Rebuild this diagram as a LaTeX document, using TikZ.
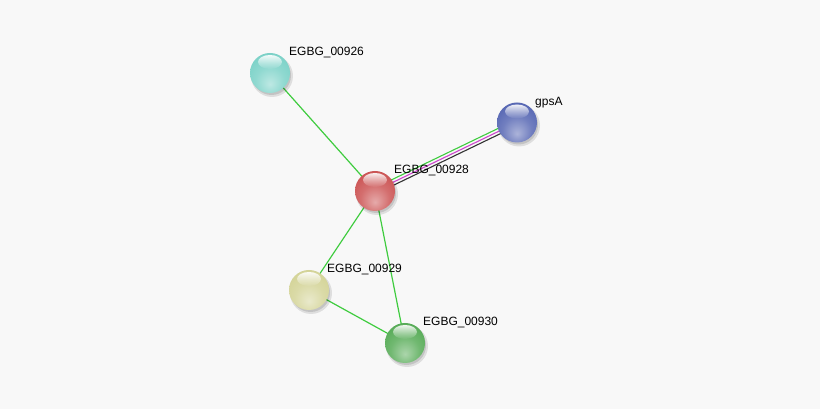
\documentclass[tikz,border=0pt]{standalone}
\usepackage{fontspec}
\setmainfont{Liberation Sans}
\usetikzlibrary{fadings}
\makeatletter
\pgfdeclareradialshading[tikz@ball]{glossball}{\pgfqpoint{0bp}{-14bp}}{%
  color(0bp)=(tikz@ball!50!white);
  color(18bp)=(tikz@ball!85!white);
  color(32bp)=(tikz@ball);
  color(50bp)=(tikz@ball!70!black);
  color(70bp)=(tikz@ball!55!black)}
\tikzset{glossy/.code={\colorlet{tikz@ball}{#1}\def\tikz@shading{glossball}\tikz@addmode{\tikz@mode@shadetrue}}}
\makeatother
\definecolor{bgc}{HTML}{F8F8F8}
\definecolor{cRed}{HTML}{CC5555}
\definecolor{cBlue}{HTML}{5868B4}
\definecolor{cCyan}{HTML}{7CD2C8}
\definecolor{cYel}{HTML}{D4D498}
\definecolor{cGrn}{HTML}{58AC58}
\definecolor{eGrn}{HTML}{3FCC3F}
\definecolor{eMag}{HTML}{CC44CC}
\tikzset{
  ballnode/.style={circle, minimum size=40pt, inner sep=0pt},
  lbl/.style={font=\fontsize{12pt}{14pt}\selectfont, anchor=west, inner sep=1pt, text=black},
  edge/.style={draw=eGrn, line width=1.2pt},
}
\newcommand{\myball}[4]{%
  \fill[black, opacity=0.10] (#2+2,#3-3) circle (21);
  \fill[black, opacity=0.12] (#2+1.5,#3-2.5) circle (19.5);
  \node[ballnode, glossy=#4] (#1) at (#2,#3) {};
  \fill[white, path fading=south, opacity=0.9] (#2,#3+11) ellipse (12 and 7);
}
\begin{document}
\begin{tikzpicture}[x=1pt,y=1pt]
\useasboundingbox (0,0) rectangle (820,409);
\fill[bgc] (0,0) rectangle (820,409);
% coordinates for edges
\coordinate (p926) at (270,336);
\coordinate (pgps) at (517,286.5);
\coordinate (p928) at (375,218);
\coordinate (p929) at (309,119);
\coordinate (p930) at (405,66);
% edges
\draw[edge] (p926) -- (p928);
\draw[edge] (p928) -- (p929);
\draw[edge] (p928) -- (p930);
\draw[edge] (p929) -- (p930);
\draw[draw=eGrn, line width=1.1pt, transform canvas={shift={(-1.2,2.6)}}] (p928) -- (pgps);
\draw[draw=eMag, line width=1.1pt] (p928) -- (pgps);
\draw[draw=black!80, line width=1.1pt, transform canvas={shift={(1.2,-2.6)}}] (p928) -- (pgps);
% balls
\myball{n926}{270}{336}{cCyan}
\myball{gpsA}{517}{286.5}{cBlue}
\myball{n928}{375}{218}{cRed}
\myball{n929}{309}{119}{cYel}
\myball{n930}{405}{66}{cGrn}
% labels
\node[lbl] (l926) at (288,356.5) {EGBG\_00926};
\node[lbl] (lgps) at (534,306.5) {gpsA};
\node[lbl] (l928) at (393,238.5) {EGBG\_00928};
\node[lbl] (l929) at (326,139.5) {EGBG\_00929};
\node[lbl] (l930) at (422,86.5) {EGBG\_00930};
\end{tikzpicture}
\end{document}
